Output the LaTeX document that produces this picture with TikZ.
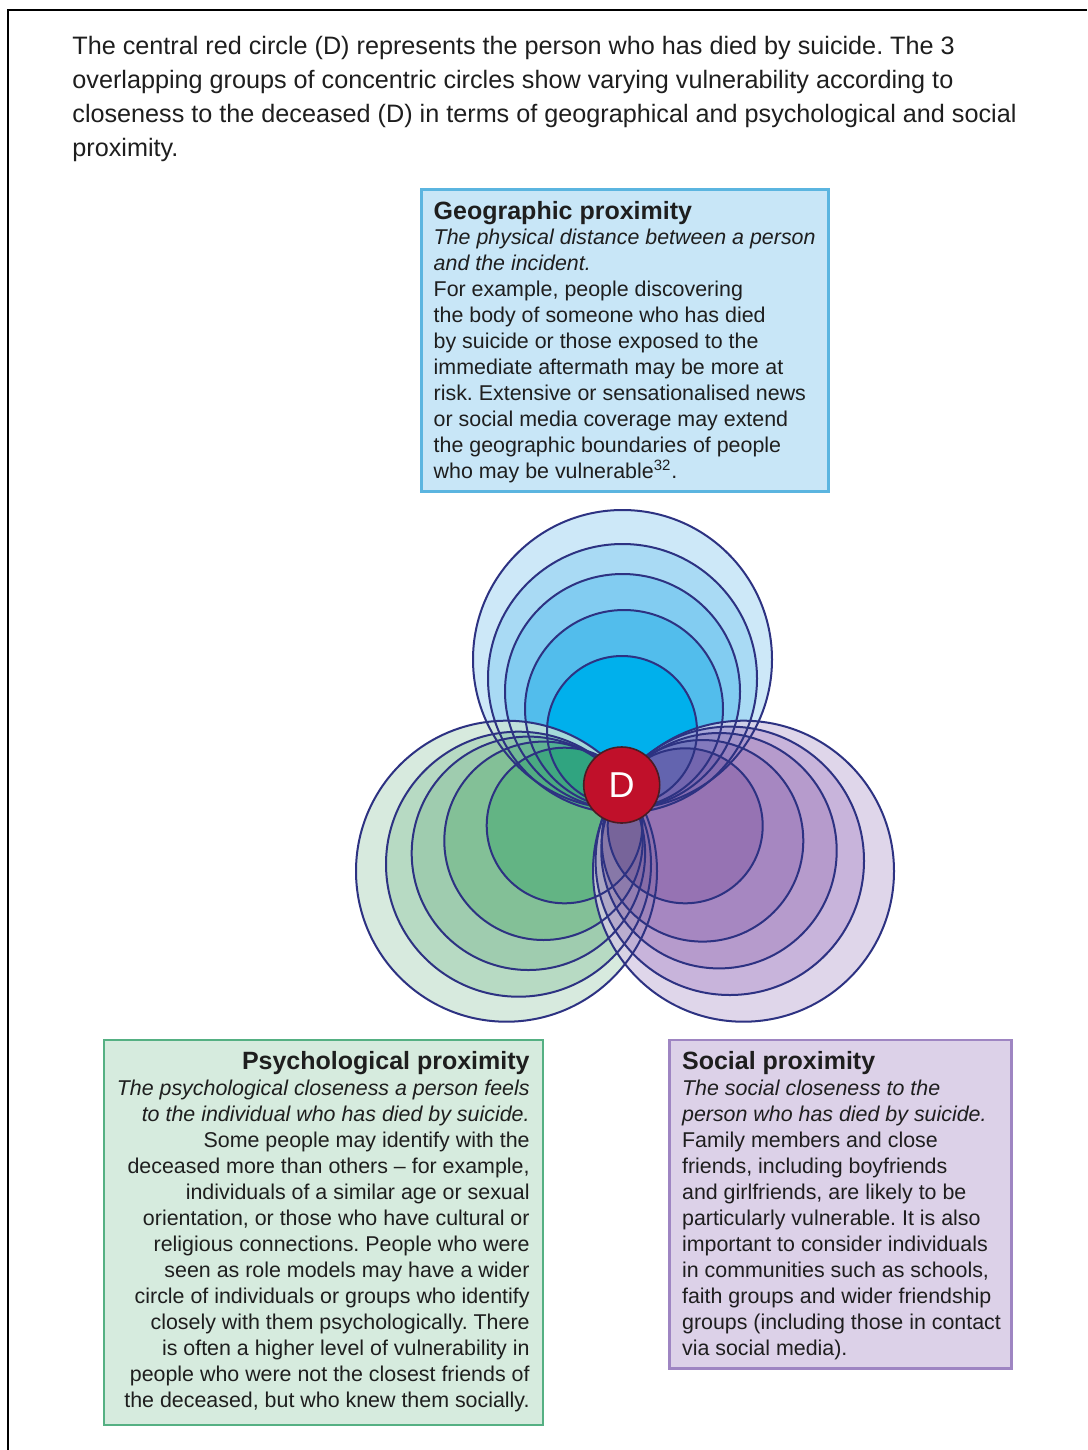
\documentclass[tikz,border=0pt]{standalone}
\usepackage{fontspec}
\setmainfont{Liberation Sans}
\usetikzlibrary{fit}
\frenchspacing
\definecolor{bA}{RGB}{205,232,248}
\definecolor{bB}{RGB}{169,218,244}
\definecolor{bC}{RGB}{130,204,241}
\definecolor{bD}{RGB}{82,189,236}
\definecolor{bE}{RGB}{0,176,236}
\definecolor{gA}{RGB}{206,229,214}
\definecolor{gB}{RGB}{166,209,181}
\definecolor{gC}{RGB}{136,192,155}
\definecolor{gD}{RGB}{101,177,126}
\definecolor{gE}{RGB}{61,162,102}
\definecolor{pA}{RGB}{216,204,229}
\definecolor{pB}{RGB}{187,162,211}
\definecolor{pC}{RGB}{164,131,192}
\definecolor{pD}{RGB}{144,106,178}
\definecolor{pE}{RGB}{124,81,160}
\definecolor{ringline}{RGB}{45,50,130}
\definecolor{dred}{RGB}{192,16,42}
\definecolor{dedge}{RGB}{74,28,36}
\definecolor{geofill}{RGB}{200,230,247}
\definecolor{geoedge}{RGB}{91,181,224}
\definecolor{psyfill}{RGB}{214,235,222}
\definecolor{psyedge}{RGB}{85,176,131}
\definecolor{socfill}{RGB}{220,209,232}
\definecolor{socedge}{RGB}{158,133,194}
\definecolor{txt}{RGB}{30,30,30}
\begin{document}
\begin{tikzpicture}[x=0.5pt,y=-0.5pt,
  ring/.style={draw=ringline,line width=1pt},
  infobox/.style={inner sep=0pt,line width=1.25pt},
  titletext/.style={inner sep=0pt,text=txt,font=\fontsize{12.5}{15}\selectfont\bfseries},
  bodytext/.style={inner sep=0pt,text=txt,font=\fontsize{10.7}{13}\selectfont},
  introtext/.style={inner sep=0pt,text=txt,font=\fontsize{12.6}{16.85}\selectfont}]
\useasboundingbox (0,0) rectangle (1087,1450);
\fill[white] (0,0) rectangle (1087,1450);
% frame
\draw[line width=1pt] (8.3,1450) -- (8.3,10) -- (1087,10);
% intro (base anchor = baseline of the last line)
\node[introtext,anchor=base west,align=left] (intro) at (72,156)
 {The central red circle (D) represents the person who has died by suicide. The 3\\
  overlapping groups of concentric circles show varying vulnerability according to\\
  closeness to the deceased (D) in terms of geographical and psychological and social\\
  proximity.};
% boxes
\node[infobox,draw=geoedge,fill=geofill,fit={(421.7,189.3) (828.3,491.7)}] (geobox) {};
\node[infobox,draw=psyedge,fill=psyfill,fit={(104,1040) (543,1425)}] (psybox) {};
\node[infobox,draw=socedge,fill=socfill,fit={(669.3,1040) (1011.7,1368.3)}] (socbox) {};
\node[titletext,anchor=base west] (geotitle) at (433.3,219.3) {Geographic proximity};
\node[bodytext,anchor=base west,align=left] (geotext) at (433.3,478)
 {\textit{The physical distance between a person}\\
  \textit{and the incident.}\\
  For example, people discovering\\
  the body of someone who has died\\
  by suicide or those exposed to the\\
  immediate aftermath may be more at\\
  risk. Extensive or sensationalised news\\
  or social media coverage may extend\\
  the geographic boundaries of people\\
  who may be vulnerable\textsuperscript{32}.};
\node[titletext,anchor=base east] (psytitle) at (530,1069.3) {Psychological proximity};
\node[bodytext,anchor=base east,align=right] (psytext) at (530,1407)
 {\textit{The psychological closeness a person feels}\\
  \textit{to the individual who has died by suicide.}\\
  Some people may identify with the\\
  deceased more than others \textendash\ for example,\\
  individuals of a similar age or sexual\\
  orientation, or those who have cultural or\\
  religious connections. People who were\\
  seen as role models may have a wider\\
  circle of individuals or groups who identify\\
  closely with them psychologically. There\\
  is often a higher level of vulnerability in\\
  people who were not the closest friends of\\
  the deceased, but who knew them socially.};
\node[titletext,anchor=base west] (soctitle) at (681.7,1069.3) {Social proximity};
\node[bodytext,anchor=base west,align=left] (soctext) at (681.7,1355)
 {\textit{The social closeness to the}\\
  \textit{person who has died by suicide.}\\
  Family members and close\\
  friends, including boyfriends\\
  and girlfriends, are likely to be\\
  particularly vulnerable. It is also\\
  important to consider individuals\\
  in communities such as schools,\\
  faith groups and wider friendship\\
  groups (including those in contact\\
  via social media).};
% circle groups: fills
\fill[bA] (622.5,659.5) circle[radius=149.5];
\fill[bB] (622.5,678.5) circle[radius=134.5];
\fill[bC] (622.5,691.5) circle[radius=117.5];
\fill[bD] (624,709) circle[radius=99];
\fill[bE] (622,731) circle[radius=75];
\begin{scope}[transparency group,opacity=0.8]
\fill[gA] (506.5,871.2) circle[radius=150.5];
\fill[gB] (518.5,864.2) circle[radius=132.5];
\fill[gC] (528.4,853.3) circle[radius=116.7];
\fill[gD] (543.5,840.8) circle[radius=99.2];
\fill[gE] (564.5,825.5) circle[radius=77.8];
\end{scope}
\begin{scope}[transparency group,opacity=0.8]
\fill[pA] (743.5,871.2) circle[radius=150.5];
\fill[pB] (729.8,860.8) circle[radius=134.2];
\fill[pC] (719,850.7) circle[radius=117.7];
\fill[pD] (702.5,840.8) circle[radius=100.8];
\fill[pE] (685.2,825.8) circle[radius=77.5];
\end{scope}
% outlines
\draw[ring] (622.5,659.5) circle[radius=149.5];
\draw[ring] (622.5,678.5) circle[radius=134.5];
\draw[ring] (622.5,691.5) circle[radius=117.5];
\draw[ring] (624,709) circle[radius=99];
\draw[ring] (622,731) circle[radius=75];
\draw[ring] (506.5,871.2) circle[radius=150.5];
\draw[ring] (518.5,864.2) circle[radius=132.5];
\draw[ring] (528.4,853.3) circle[radius=116.7];
\draw[ring] (543.5,840.8) circle[radius=99.2];
\draw[ring] (564.5,825.5) circle[radius=77.8];
\draw[ring] (743.5,871.2) circle[radius=150.5];
\draw[ring] (729.8,860.8) circle[radius=134.2];
\draw[ring] (719,850.7) circle[radius=117.7];
\draw[ring] (702.5,840.8) circle[radius=100.8];
\draw[ring] (685.2,825.8) circle[radius=77.5];
% D
\node[circle,fill=dred,draw=dedge,line width=0.8pt,minimum size=38pt,inner sep=0pt,
  text=white,font=\fontsize{18}{18}\selectfont] (D) at (621.7,785) {D};
\end{tikzpicture}
\end{document}
